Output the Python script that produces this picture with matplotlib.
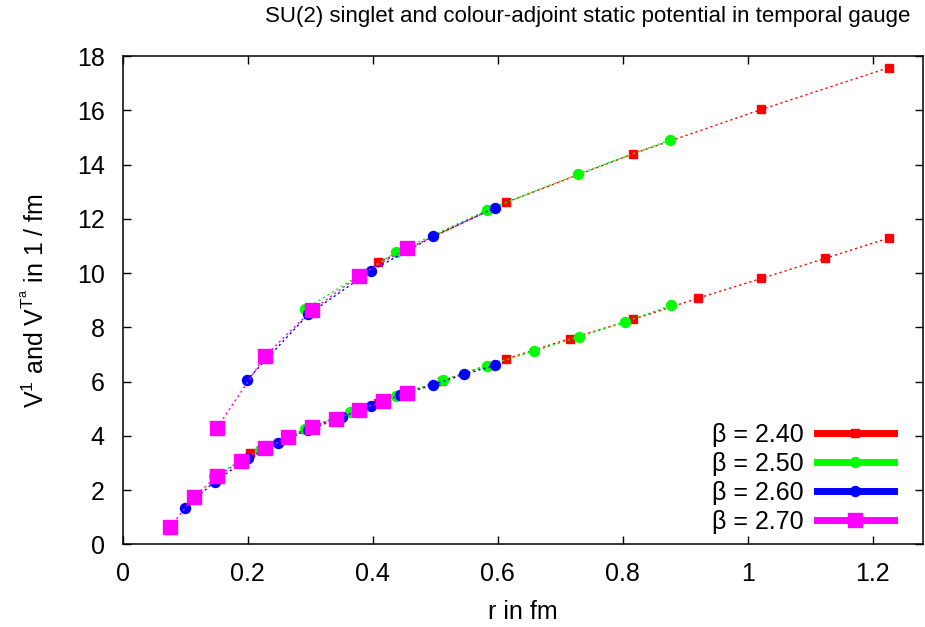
import matplotlib
matplotlib.use('Agg')
import matplotlib.pyplot as plt
from matplotlib.lines import Line2D

plt.rcParams['font.family'] = ['Liberation Sans', 'DejaVu Sans']
plt.rcParams['mathtext.fontset'] = 'custom'
plt.rcParams['mathtext.rm'] = 'Liberation Sans'
plt.rcParams['mathtext.it'] = 'Liberation Sans:italic'

# beta = 2.40
r_240_adj = [0.409, 0.613, 0.817, 1.022, 1.226]
v_240_adj = [10.39, 12.60, 14.40, 16.03, 17.57]
r_240_sing = [0.204, 0.307, 0.409, 0.511, 0.613, 0.715, 0.817, 0.920, 1.022, 1.124, 1.226]
v_240_sing = [3.36, 4.38, 5.22, 6.03, 6.83, 7.58, 8.29, 9.07, 9.80, 10.54, 11.29]

# beta = 2.50
r_250_adj = [0.2915, 0.437, 0.583, 0.729, 0.875]
v_250_adj = [8.66, 10.76, 12.32, 13.65, 14.90]
r_250_sing = [0.146, 0.219, 0.292, 0.364, 0.437, 0.512, 0.583, 0.658, 0.730, 0.8035, 0.877]
v_250_sing = [2.50, 3.49, 4.25, 4.88, 5.48, 6.05, 6.59, 7.12, 7.65, 8.19, 8.81]

# beta = 2.60
r_260_adj = [0.198, 0.297, 0.397, 0.497, 0.596]
v_260_adj = [6.04, 8.48, 10.08, 11.35, 12.41]
r_260_sing = [0.0995, 0.147, 0.201, 0.249, 0.297, 0.350, 0.397, 0.4435, 0.497, 0.546, 0.5955]
v_260_sing = [1.35, 2.31, 3.18, 3.73, 4.22, 4.68, 5.09, 5.49, 5.89, 6.26, 6.60]

# beta = 2.70
r_270_adj = [0.151, 0.2275, 0.302, 0.378, 0.454]
v_270_adj = [4.30, 6.94, 8.62, 9.89, 10.91]
r_270_sing = [0.0755, 0.114, 0.151, 0.189, 0.2275, 0.265, 0.303, 0.341, 0.378, 0.416, 0.454]
v_270_sing = [0.63, 1.76, 2.50, 3.08, 3.55, 3.94, 4.33, 4.63, 4.96, 5.27, 5.58]

labels = ['β = 2.40', 'β = 2.50', 'β = 2.60', 'β = 2.70']
colors = ['#ff0000', '#00ff00', '#0000ff', '#ff00ff']
markers = ['s', 'o', 'o', 's']
msizes = [5.5, 7.2, 7.2, 10.5]

series = [
    (r_240_adj, v_240_adj, r_240_sing, v_240_sing),
    (r_250_adj, v_250_adj, r_250_sing, v_250_sing),
    (r_260_adj, v_260_adj, r_260_sing, v_260_sing),
    (r_270_adj, v_270_adj, r_270_sing, v_270_sing),
]

fig = plt.figure(figsize=(9.25, 6.27), dpi=100)
ax = fig.add_axes([122.8/925, 1-544.3/627, (923.3-122.8)/925, (544.3-56)/627])

handles = []
for i, (ra, va, rs, vs) in enumerate(series):
    for rr, vv in [(ra, va), (rs, vs)]:
        ax.plot(rr, vv, color=colors[i], lw=1, dashes=(1.6, 2.2), marker=markers[i],
                ms=msizes[i], mec=colors[i], mfc=colors[i], zorder=3+i)
    handles.append(Line2D([], [], color=colors[i], lw=5, marker=markers[i],
                          ms=msizes[i], solid_capstyle='projecting'))

ax.set_xlim(0, 1.281)
ax.set_ylim(0, 18)
ax.set_xticks([0, 0.2, 0.4, 0.6, 0.8, 1, 1.2])
ax.set_xticklabels(['0', '0.2', '0.4', '0.6', '0.8', '1', '1.2'])
ax.set_yticks(range(0, 19, 2))
ax.tick_params(direction='in', length=6, width=1, top=True, right=True,
               labelsize=18, pad=13)
for s in ax.spines.values():
    s.set_linewidth(1.1)

ax.set_xlabel('r in fm', fontsize=18, labelpad=10)
ax.set_ylabel(r'V$^{1}$ and V$^{\mathregular{T^a}}$ in 1 / fm', fontsize=18, labelpad=20)
fig.text(588/925, 1-6/627, 'SU(2) singlet and colour-adjoint static potential in temporal gauge',
         ha='center', va='top', fontsize=16)

ax.legend(handles, labels, loc='lower right', bbox_to_anchor=(894/925, 1-534/627),
          bbox_transform=fig.transFigure, frameon=False, markerfirst=False,
          fontsize=18, numpoints=1, handlelength=3.1, handletextpad=0.5,
          labelspacing=0.2, borderpad=0, borderaxespad=0)

fig.savefig('out.png', dpi=100)
